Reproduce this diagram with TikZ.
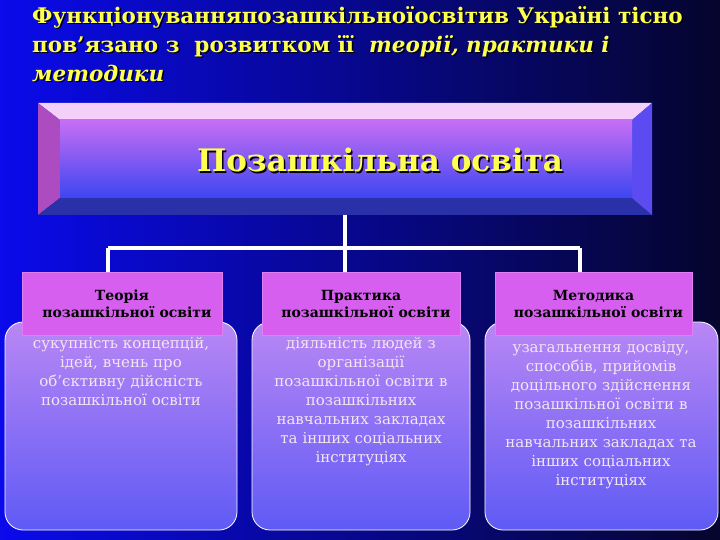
\documentclass[tikz,border=0pt]{standalone}
\usepackage{fontspec}
\setmainfont{DejaVu Serif}
\usetikzlibrary{shadings}
\definecolor{bgl}{RGB}{10,10,235}
\definecolor{bgr}{RGB}{5,5,45}
\definecolor{ttl}{RGB}{255,255,80}
\definecolor{hdr}{RGB}{215,95,240}
\definecolor{bodyt}{RGB}{185,135,245}
\definecolor{bodyb}{RGB}{95,90,245}
\definecolor{bigt}{RGB}{200,110,245}
\definecolor{bigb}{RGB}{60,70,240}
\tikzset{
  conn/.style={white,line width=3.5pt},
  hbox/.style={fill=hdr,draw=hdr!80!white,line width=0.6pt},
  bbox/.style={top color=bodyt,bottom color=bodyb,draw=white,line width=0.8pt,rounded corners=18pt},
  htext/.style={font=\bfseries\fontsize{14}{17}\selectfont,align=center,text=black},
  btext/.style={font=\fontsize{15}{19}\selectfont,align=center,text=white!90!violet,text width=240pt,anchor=north},
}
\begin{document}
\begin{tikzpicture}[x=1pt,y=-1pt]
\useasboundingbox (0,0) rectangle (720,540);
\shade[left color=bgl,right color=bgr] (0,0) rectangle (720,540);
% title
\foreach \dx/\dy/\c in {1.5/1.5/black,0/0/ttl}{
\node[anchor=north west,align=left,text=\c,font=\bfseries\fontsize{21.5}{29}\selectfont,inner sep=0pt] at (32+\dx,6+\dy)
 {Функціонуванняпозашкільноїосвітив Україні тісно\\
  пов’язано з \ розвитком її \ \textit{теорії, практики і}\\
  \textit{методики}};
}
% big bevel box
\fill[white!70!hdr] (38,103) -- (652,103) -- (632,120) -- (60,120) -- cycle;
\fill[hdr!80!black] (38,103) -- (60,120) -- (60,198) -- (38,215) -- cycle;
\fill[bigb!70!black] (38,215) -- (60,198) -- (632,198) -- (652,215) -- cycle;
\fill[bigb!80!hdr] (652,103) -- (632,120) -- (632,198) -- (652,215) -- cycle;
\shade[top color=bigt,bottom color=bigb] (60,120) rectangle (632,198);
\node (big) at (380,160) {};
\foreach \dx in {1.5,0}{
\node[font=\bfseries\fontsize{31}{34}\selectfont,text=\ifdim\dx pt>0pt black\else ttl\fi] at (380+\dx,160+\dx) {Позашкільна освіта};}
% connectors
\coordinate (bb) at (345,215);
\coordinate (jn) at (345,248);
\coordinate (jl) at (108,248);
\coordinate (jr) at (580,248);
\draw[conn] (bb) -- (jn);
\draw[conn] (jl) -- (jr);
% bodies
\draw[bbox] (5,322) rectangle (237,530);
\draw[bbox] (252,322) rectangle (470,530);
\draw[bbox] (485,322) rectangle (718,530);
% headers
\node[hbox,minimum width=200pt,minimum height=63pt] (h1) at (122,303.5) {};
\node[hbox,minimum width=198pt,minimum height=63pt] (h2) at (361,303.5) {};
\node[hbox,minimum width=197pt,minimum height=63pt] (h3) at (593.5,303.5) {};
\draw[conn] (jl) -- (jl |- h1.north);
\draw[conn] (jn) -- (jn |- h2.north);
\draw[conn] (jr) -- (jr |- h3.north);
\node[htext] at (h1) {Теорія\\ \ \ позашкільної освіти};
\node[htext] at (h2) {Практика\\ \ \ позашкільної освіти};
\node[htext] at (h3) {Методика\\ \ \ позашкільної освіти};
\node[btext] at (121,334) {сукупність концепцій,\\ ідей, вчень про\\ об’єктивну дійсність\\ позашкільної освіти};
\node[btext] at (361,334) {діяльність людей з\\ організації\\ позашкільної освіти в\\ позашкільних\\ навчальних закладах\\ та інших соціальних\\ інституціях};
\node[btext] at (601,338) {узагальнення досвіду,\\ способів, прийомів\\ доцільного здійснення\\ позашкільної освіти в\\ позашкільних\\ навчальних закладах та\\ інших соціальних\\ інституціях};
\end{tikzpicture}
\end{document}
